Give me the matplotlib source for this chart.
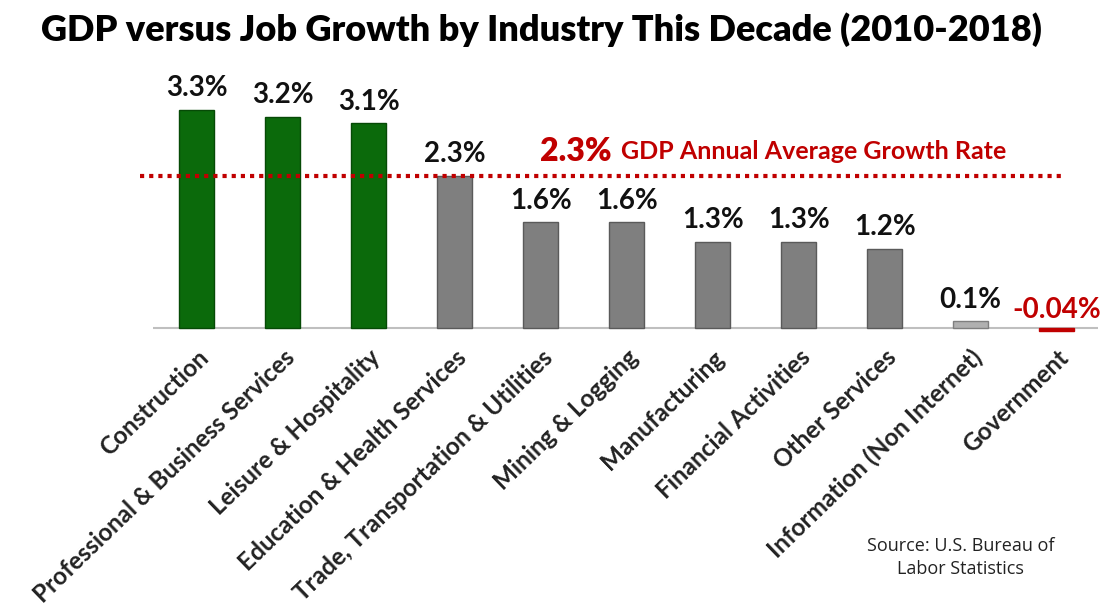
import matplotlib
matplotlib.use("Agg")
import matplotlib.pyplot as plt
from matplotlib.transforms import ScaledTranslation

categories = ["Construction", "Professional & Business Services", "Leisure & Hospitality",
              "Education & Health Services", "Trade, Transportation & Utilities",
              "Mining & Logging", "Manufacturing", "Financial Activities",
              "Other Services", "Information (Non Internet)", "Government"]
values = [3.3, 3.2, 3.1, 2.3, 1.6, 1.6, 1.3, 1.3, 1.2, 0.1, -0.04]
value_labels = ["3.3%", "3.2%", "3.1%", "2.3%", "1.6%", "1.6%", "1.3%", "1.3%", "1.2%", "0.1%", "-0.04%"]
gdp_rate = 2.3

green = "#0b6a0b"
gray = "#7f7f7f"
colors = [green, green, green, gray, gray, gray, gray, gray, gray, "#b0b0b0", "#c00000"]
edges = ["#064a06", "#064a06", "#064a06", "#5a5a5a", "#5a5a5a", "#5a5a5a", "#5a5a5a",
         "#5a5a5a", "#5a5a5a", "#7f7f7f", "#c00000"]

fig = plt.figure(figsize=(11.08, 6.14), dpi=100)
ax = fig.add_axes([153/1108, 1 - 334.6/614, 945/1108, (334.6 - 90.4)/614])
ax.set_xlim(-0.51, 10.48)
ax.set_ylim(-0.1, 3.6)

x = list(range(len(categories)))
ax.bar(x, values, width=0.41, color=colors, edgecolor=edges, linewidth=1.0, zorder=3)

ax.axhline(0, color="#bfbfbf", linewidth=1.5, zorder=2)

# GDP line
ax.plot([-0.66, 10.09], [gdp_rate, gdp_rate], color="#c00000", linestyle=(0, (1, 1.2)),
        linewidth=3, zorder=4, clip_on=False)
ax.text(3.99, gdp_rate + 0.38, "2.3%", color="#c00000", fontsize=23, fontweight="heavy",
        family="Lato", ha="left", va="center")
ax.text(4.93, gdp_rate + 0.38, "GDP Annual Average Growth Rate", color="#c00000", fontsize=18,
        fontweight="bold", family="Lato", ha="left", va="center")

for xi, v, lab in zip(x, values, value_labels):
    if v < 0:
        ax.text(xi, 0.28, lab, ha="center", va="center", fontsize=20,
                fontweight="bold", family="Lato", color="#c00000")
    else:
        ax.text(xi, v + 0.33, lab, ha="center", va="center", fontsize=20,
                fontweight="bold", family="Lato", color="#111111")

ax.set_xticks(x)
ax.set_xticklabels(categories, rotation=44, ha="right", rotation_mode="anchor",
                   fontsize=17.5, fontweight="bold", family="Lato", color="#222222")
off = ScaledTranslation(0.07, -0.03, fig.dpi_scale_trans)
for lbl in ax.get_xticklabels():
    lbl.set_transform(lbl.get_transform() + off)
ax.tick_params(axis="x", length=0, pad=8)
ax.set_yticks([])
for s in ax.spines.values():
    s.set_visible(False)

fig.text(0.489, 0.952, "GDP versus Job Growth by Industry This Decade (2010-2018)",
         ha="center", va="center", fontsize=26, fontweight="heavy", family="Lato")

fig.text(0.867, 0.092, "Source: U.S. Bureau of\nLabor Statistics", ha="center", va="center",
         fontsize=13, family="Open Sans", linespacing=1.3, color="#222222")

fig.savefig("out.png", dpi=100)
